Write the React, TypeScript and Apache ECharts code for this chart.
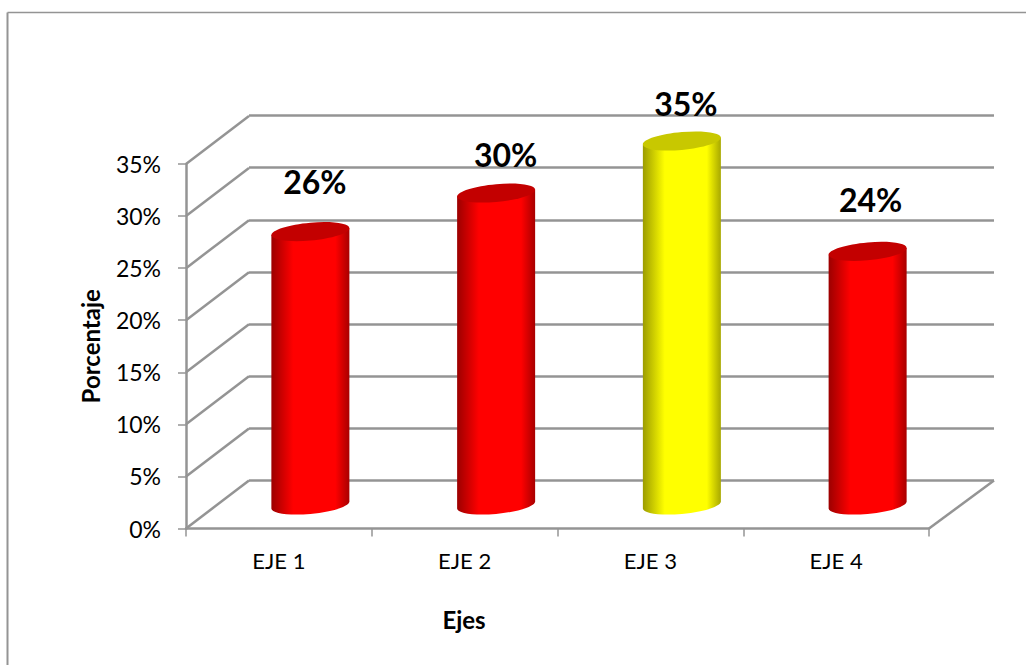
import React, { useEffect, useRef } from "react";
import * as echarts from "echarts";

const categories = ["EJE 1", "EJE 2", "EJE 3", "EJE 4"];
const values = [26.3, 30, 35, 24.4];
const yTicks = [0, 5, 10, 15, 20, 25, 30, 35];

const bodyColors = [
  ["#9c0000", "#ff0000", "#ff0000", "#a80000"],
  ["#9c0000", "#ff0000", "#ff0000", "#a80000"],
  ["#9c9c00", "#ffff00", "#ffff00", "#a8a800"],
  ["#9c0000", "#ff0000", "#ff0000", "#a80000"],
];
const capColors = ["#c30000", "#c30000", "#c8c800", "#c30000"];

const DEPTH_X = 63;
const DEPTH_Y = -48;
const GRID_COLOR = "#949494";
const GRID_WIDTH = 2.5;
const FONT = "Lato";
const LABEL_SHIFT = [
  [4.5, -50],
  [9.5, -38.5],
  [4, -38],
  [3, -52],
];

export default function App() {
  const ref = useRef<HTMLDivElement>(null);
  useEffect(() => {
    const chart = echarts.init(ref.current!, null, { renderer: "svg" });
    const axisLine = { lineStyle: { color: GRID_COLOR, width: GRID_WIDTH } };
    chart.setOption({
      animation: false,
      backgroundColor: "#ffffff",
      grid: [
        { left: 186, top: 164, width: 743, height: 364.5 },
        { left: 249, top: 115.5, width: 745, height: 365 },
      ],
      xAxis: [
        {
          type: "category",
          gridIndex: 0,
          data: categories,
          boundaryGap: true,
          axisLine,
          axisTick: { show: true, length: 8, alignWithLabel: false, lineStyle: { color: GRID_COLOR, width: 1.5 } },
          axisLabel: { color: "#000", fontFamily: FONT, fontSize: 22, margin: 21 },
          splitLine: { show: false },
        },
        { type: "category", gridIndex: 1, data: categories, show: false },
      ],
      yAxis: [
        {
          type: "value",
          gridIndex: 0,
          min: 0,
          max: 35,
          interval: 5,
          axisLine: { show: true, ...axisLine },
          axisTick: { show: true, length: 8, lineStyle: { color: GRID_COLOR, width: 1.5 } },
          axisLabel: { color: "#000", fontFamily: FONT, fontSize: 23, margin: 25, formatter: "{value}%" },
          splitLine: { show: false },
          name: "Porcentaje",
          nameLocation: "middle",
          nameRotate: 90,
          nameGap: 84,
          nameTextStyle: { color: "#000", fontFamily: FONT, fontWeight: "bold", fontSize: 24 },
        },
        {
          type: "value",
          gridIndex: 1,
          min: 0,
          max: 35,
          interval: 5,
          axisLine: { show: false },
          axisTick: { show: false },
          axisLabel: { show: false },
          splitLine: { show: true, lineStyle: { color: GRID_COLOR, width: GRID_WIDTH } },
        },
      ],
      series: [
        {
          type: "custom",
          xAxisIndex: 0,
          yAxisIndex: 0,
          data: yTicks.map((v) => [0, v]),
          encode: { x: 0, y: 1 },
          z: 3,
          clip: false,
          renderItem: (params: any, api: any) => {
            const v = api.value(1);
            const y = api.coord([0, v])[1];
            const x0 = params.coordSys.x;
            const style = { stroke: GRID_COLOR, lineWidth: GRID_WIDTH, fill: "none" };
            const children: any[] = [
              { type: "line", shape: { x1: x0, y1: y, x2: x0 + DEPTH_X, y2: y + DEPTH_Y }, style },
            ];
            if (v === 0) {
              const x1 = x0 + params.coordSys.width;
              children.push({ type: "line", shape: { x1, y1: y, x2: x1 + DEPTH_X + 2, y2: y + DEPTH_Y }, style });
            }
            return { type: "group", children };
          },
        },
        {
          type: "custom",
          xAxisIndex: 0,
          yAxisIndex: 0,
          data: values.map((v, i) => [i, v]),
          z: 5,
          clip: false,
          encode: { x: 0, y: 1 },
          renderItem: (params: any, api: any) => {
            const i = api.value(0);
            const v = api.value(1);
            const band = api.size([1, 0])[0];
            const a = band * 0.21;
            const b = 8.9;
            const t = 3.4;
            const k = 0.5523;
            const top = api.coord([i, v]);
            const base = api.coord([i, 0]);
            const cx = top[0] + DEPTH_X / 2;
            const cyTop = top[1] + DEPTH_Y / 2 + 1;
            const cyBase = base[1] + DEPTH_Y / 2 + 0.5;
            const [lx, rx] = [cx - a, cx + a];
            // Sheared half ellipses: vertical tangents at the cylinder's sides.
            const upper = (cy: number) =>
              `C${lx} ${cy + t - k * b} ${cx - k * a} ${cy - b + k * t} ${cx} ${cy - b} ` +
              `C${cx + k * a} ${cy - b - k * t} ${rx} ${cy - t - k * b} ${rx} ${cy - t}`;
            const lower = (cy: number) =>
              `C${lx} ${cy + t + k * b} ${cx - k * a} ${cy + b + k * t} ${cx} ${cy + b} ` +
              `C${cx + k * a} ${cy + b - k * t} ${rx} ${cy - t + k * b} ${rx} ${cy - t}`;
            const lowerBack = (cy: number) =>
              `C${rx} ${cy - t + k * b} ${cx + k * a} ${cy + b - k * t} ${cx} ${cy + b} ` +
              `C${cx - k * a} ${cy + b + k * t} ${lx} ${cy + t + k * b} ${lx} ${cy + t}`;
            const body =
              `M${lx} ${cyTop + t} L${lx} ${cyBase + t} ${lower(cyBase)} L${rx} ${cyTop - t} Z`;
            const cap = `M${lx} ${cyTop + t} ${upper(cyTop)} ${lowerBack(cyTop)} Z`;
            const c = bodyColors[i];
            const [sx, sy] = LABEL_SHIFT[i];
            return {
              type: "group",
              children: [
                {
                  type: "path",
                  shape: { pathData: body },
                  style: {
                    fill: {
                      type: "linear",
                      x: 0,
                      y: 0,
                      x2: 1,
                      y2: 0,
                      colorStops: [
                        { offset: 0, color: c[0] },
                        { offset: 0.28, color: c[1] },
                        { offset: 0.82, color: c[2] },
                        { offset: 1, color: c[3] },
                      ],
                    },
                  },
                },
                { type: "path", shape: { pathData: cap }, style: { fill: capColors[i] } },
                {
                  type: "text",
                  x: cx + sx,
                  y: cyTop + sy,
                  style: {
                    text: `${Math.round(v)}%`,
                    fill: "#000",
                    font: `bold 32px ${FONT}`,
                    align: "center",
                    verticalAlign: "middle",
                  },
                },
              ],
            };
          },
        },
      ],
      graphic: [
        { type: "line", shape: { x1: 7.5, y1: 12.5, x2: 1026, y2: 12.5 }, style: { stroke: GRID_COLOR, lineWidth: 1.5 } },
        { type: "line", shape: { x1: 7.5, y1: 12.5, x2: 7.5, y2: 665 }, style: { stroke: GRID_COLOR, lineWidth: 2 } },
        {
          type: "text",
          x: 464,
          y: 619,
          style: { text: "Ejes", fill: "#000", font: `bold 24px ${FONT}`, align: "center", verticalAlign: "middle" },
        },
      ],
    });
    return () => chart.dispose();
  }, []);
  return <div ref={ref} style={{ position: "fixed", left: 0, top: 0, width: 1026, height: 665 }} />;
}
